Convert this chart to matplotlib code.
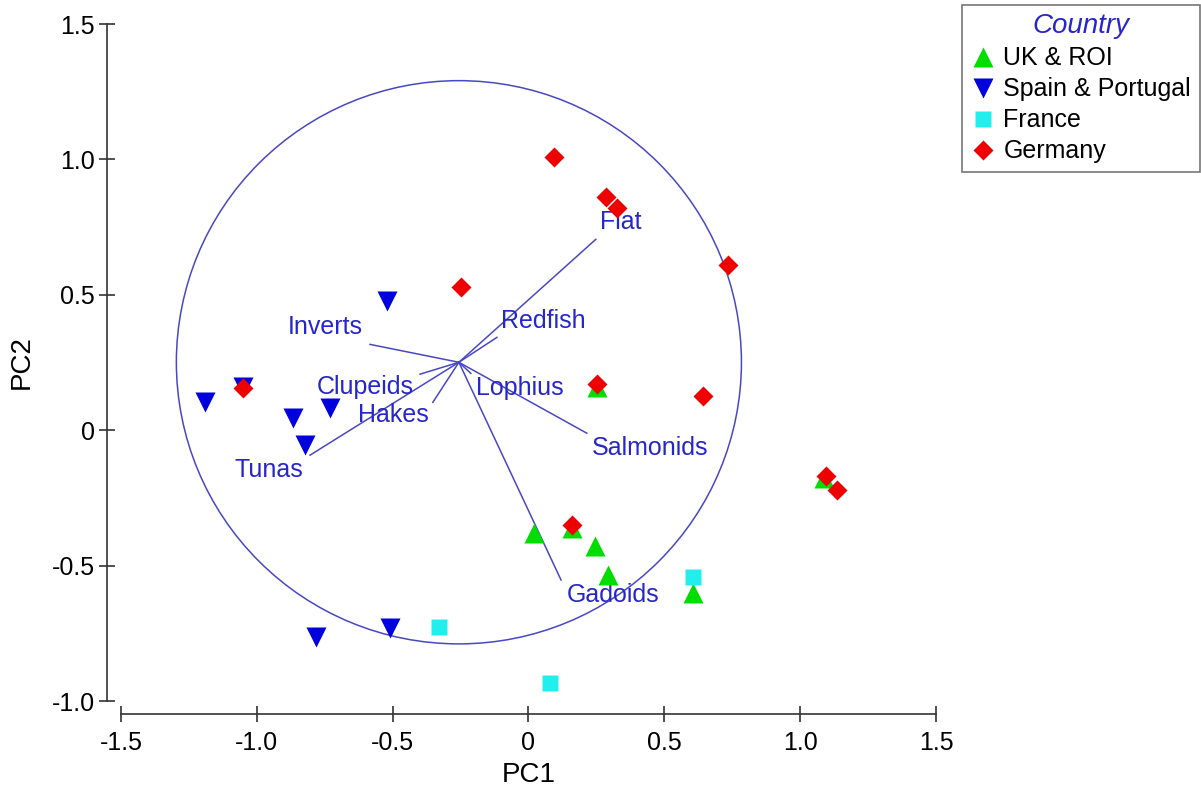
import numpy as np
import matplotlib
matplotlib.use("Agg")
import matplotlib.pyplot as plt
from matplotlib.patches import Circle
from matplotlib.lines import Line2D

plt.rcParams['font.family'] = ['Liberation Sans', 'DejaVu Sans']

# sample scores (PC1, PC2) by country
uk_x = [0.020, 0.245, 0.293, 0.605, 0.252, 0.160, 1.088]
uk_y = [-0.380, -0.428, -0.535, -0.602, 0.160, -0.360, -0.177]
spain_x = [-0.521, -1.191, -1.051, -0.867, -0.731, -0.823, -0.782, -0.510]
spain_y = [0.476, 0.103, 0.160, 0.044, 0.081, -0.055, -0.764, -0.731]
france_x = [-0.329, 0.079, 0.605]
france_y = [-0.727, -0.934, -0.542]
germany_x = [0.094, 0.285, 0.326, 0.734, -0.248, -1.051, 0.252, 0.642, 1.095, 1.135, 0.160]
germany_y = [1.008, 0.860, 0.820, 0.609, 0.528, 0.155, 0.170, 0.126, -0.170, -0.222, -0.351]

# vector overlay
origin = (-0.256, 0.251)
circle_r = 1.04
vec_names = ['Flat', 'Redfish', 'Inverts', 'Clupeids', 'Hakes', 'Tunas', 'Lophius', 'Salmonids', 'Gadoids']
vec_x = [0.248, -0.116, -0.583, -0.399, -0.352, -0.804, -0.212, 0.215, 0.120]
vec_y = [0.705, 0.343, 0.317, 0.207, 0.103, -0.092, 0.210, -0.011, -0.553]
lab_x = [0.338, 0.053, -0.749, -0.602, -0.499, -0.955, -0.031, 0.447, 0.311]
lab_y = [0.768, 0.402, 0.380, 0.159, 0.055, -0.148, 0.155, -0.066, -0.609]

xticks = [-1.5, -1.0, -0.5, 0, 0.5, 1.0, 1.5]
yticks = [-1.0, -0.5, 0, 0.5, 1.0, 1.5]

line_col = '#4848c4'
text_col = '#2626cc'

fig = plt.figure(figsize=(12.01, 7.89), dpi=100)
ax = fig.add_axes([0.1007, 0.1115, 0.6786, 0.858])

ax.add_patch(Circle(origin, circle_r, fill=False, edgecolor=line_col, lw=1.1, zorder=1))
for ex, ey, lx, ly, name in zip(vec_x, vec_y, lab_x, lab_y, vec_names):
    ax.plot([origin[0], ex], [origin[1], ey], color=line_col, lw=1.1, zorder=1)
    ax.text(lx, ly, name, color=text_col, fontsize=18, ha='center', va='center', zorder=2)

ax.plot(uk_x, uk_y, '^', color='#00dd00', ms=14, mec='none', zorder=3, label='UK & ROI')
ax.plot(spain_x, spain_y, 'v', color='#0000dd', ms=14, mec='none', zorder=3, label='Spain & Portugal')
ax.plot(france_x, france_y, 's', color='#22eeee', ms=12, mec='none', zorder=3, label='France')
ax.plot(germany_x, germany_y, 'D', color='#ee0000', ms=10, mec='none', zorder=4, label='Germany')

ax.set_xlim(-1.5, 1.5)
ax.set_ylim(-1.0, 1.5)
ax.set_xticks(xticks)
ax.set_yticks(yticks)
fmt = lambda v: '0' if v == 0 else f'{v:.1f}'
ax.set_xticklabels([fmt(v) for v in xticks])
ax.set_yticklabels([fmt(v) for v in yticks])

for s in ['top', 'right']:
    ax.spines[s].set_visible(False)
ax.spines['left'].set_position(('outward', 10))
ax.spines['bottom'].set_position(('outward', 9.5))
for s in ['left', 'bottom']:
    ax.spines[s].set_color('#333333')
    ax.spines[s].set_linewidth(1.2)
ax.tick_params(axis='both', direction='inout', length=12, width=1.2, color='#333333',
               labelsize=18, pad=3)
ax.tick_params(axis='x', pad=6)

ax.set_xlabel('PC1', fontsize=20, labelpad=5)
ax.set_ylabel('PC2', fontsize=20, labelpad=12)

handles = [Line2D([], [], ls='none', marker='^', color='#00dd00', ms=14, mec='none'),
           Line2D([], [], ls='none', marker='v', color='#0000dd', ms=14, mec='none'),
           Line2D([], [], ls='none', marker='s', color='#22eeee', ms=12, mec='none'),
           Line2D([], [], ls='none', marker='D', color='#ee0000', ms=10, mec='none')]
leg = fig.legend(handles, ['UK & ROI', 'Spain & Portugal', 'France', 'Germany'],
                 loc='upper left', bbox_to_anchor=(0.801, 0.994), fontsize=18,
                 title='Country', fancybox=False, frameon=True, handlelength=1.0,
                 handletextpad=0.3, labelspacing=0.28, borderpad=0.35, borderaxespad=0)
leg.get_title().set_fontsize(20)
leg.get_title().set_style('italic')
leg.get_title().set_color(text_col)
leg.get_frame().set_edgecolor('#555555')
leg.get_frame().set_linewidth(1.2)

fig.savefig('out.png', dpi=100)
